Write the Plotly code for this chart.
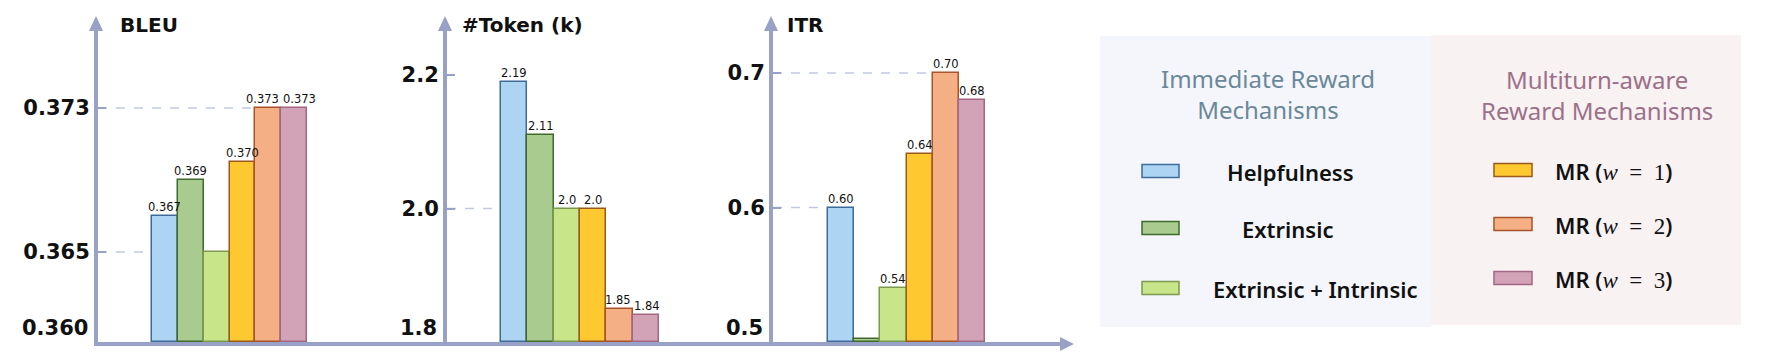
import plotly.graph_objects as go

# ---------------- data ----------------
methods = ["Helpfulness", "Extrinsic", "Extrinsic + Intrinsic",
           "MR (w = 1)", "MR (w = 2)", "MR (w = 3)"]
legend_groups = ["Immediate Reward<br>Mechanisms", "Multiturn-aware<br>Reward Mechanisms"]

bleu = [0.367, 0.369, 0.365, 0.370, 0.373, 0.373]
bleu_labels = ["0.367", "0.369", "", "0.370", "0.373", "0.373"]
bleu_ticks = [0.365, 0.373]
bleu_ticktext = ["0.365", "0.373"]
bleu_base = 0.360
bleu_base_text = "0.360"

tokens = [2.19, 2.11, 2.00, 2.00, 1.85, 1.84]
token_labels = ["2.19", "2.11", "2.0", "2.0", "1.85", "1.84"]
token_ticks = [2.0, 2.2]
token_ticktext = ["2.0", "2.2"]
token_base = 1.8
token_base_text = "1.8"

itr = [0.60, 0.502, 0.54, 0.64, 0.70, 0.68]
itr_labels = ["0.60", "", "0.54", "0.64", "0.70", "0.68"]
itr_ticks = [0.6, 0.7]
itr_ticktext = ["0.6", "0.7"]
itr_base = 0.5
itr_base_text = "0.5"

titles = ["BLEU", "#Token (k)", "ITR"]

# ---------------- styles ----------------
fill_colors = ["#aed4f3", "#a9cb8f", "#c9e58a", "#fdc830", "#f5af84", "#d2a3b7"]
edge_colors = ["#3d6b9a", "#3f6a2c", "#7b9a4e", "#9a5a1c", "#a8532a", "#a36783"]
AXIS = "#98a2c6"
DASH = "#c3cadf"
LABEL_SIZE = 11.5

W, H = 1772, 358
def px(x):
    return x / W
def py(y):
    return 1 - y / H

# layout geometry (pixels)
axis_x = [98, 447, 773]
dom_right = [447, 773, 1062]
bars_left = [152, 501, 828]
bars_right = [307, 659, 985]
y_top, y_bot = 30, 342
y_tops_val = [0.37733, 2.2674, 0.732]

series = [
    (bleu, bleu_labels, bleu_ticks, bleu_ticktext, bleu_base, bleu_base_text),
    (tokens, token_labels, token_ticks, token_ticktext, token_base, token_base_text),
    (itr, itr_labels, itr_ticks, itr_ticktext, itr_base, itr_base_text),
]

fig = go.Figure()
shapes = []
annotations = []
layout = {}

def label_width(s):
    return sum((0.318 if ch == "." else 0.636) * LABEL_SIZE for ch in s)

for k, (vals, labs, tv, tt, base, base_text) in enumerate(series):
    sfx = "" if k == 0 else str(k + 1)
    xa, ya = "x" + sfx, "y" + sfx
    n = len(vals)
    unit = (bars_right[k] - bars_left[k]) / n
    r0 = -0.5 - (bars_left[k] - axis_x[k]) / unit
    r1 = r0 + (dom_right[k] - axis_x[k]) / unit
    ppu = (y_bot - y_top) / (y_tops_val[k] - base)

    fig.add_trace(go.Bar(
        x=list(range(n)), y=[v - base for v in vals], base=base,
        marker=dict(color=fill_colors, line=dict(color=edge_colors, width=1.5)),
        width=1.0, xaxis=xa, yaxis=ya, showlegend=False,
        hovertext=methods,
    ))

    # value labels above bars, nudged apart where neighbours would collide
    shifts = [0.0] * n
    for i in range(n - 1):
        a, b = labs[i], labs[i + 1]
        if a and b and abs(vals[i] - vals[i + 1]) * ppu < 12:
            need = (label_width(a) + label_width(b)) / 2 + 4 - unit
            if need > 0:
                shifts[i] -= need / 2
                shifts[i + 1] += need / 2
    for i in range(n):
        if labs[i]:
            annotations.append(dict(text=labs[i], xref=xa, yref=ya, x=i, y=vals[i],
                                    xanchor="center", yanchor="bottom", showarrow=False,
                                    xshift=shifts[i], yshift=0,
                                    font=dict(family="DejaVu Sans", size=LABEL_SIZE, color="#111")))

    layout["xaxis" + sfx] = dict(
        domain=[px(axis_x[k]), px(dom_right[k])], range=[r0, r1],
        anchor=ya, showline=True, linecolor=AXIS, linewidth=4,
        showgrid=False, zeroline=False, showticklabels=False, ticks="",
        automargin=False,
    )
    layout["yaxis" + sfx] = dict(
        domain=[py(y_bot), py(y_top)], range=[base, y_tops_val[k]],
        anchor=xa, showline=True, linecolor=AXIS, linewidth=4,
        showgrid=False, zeroline=False, automargin=False,
        tickvals=tv, ticktext=tt, ticks="inside", ticklen=8, tickwidth=2,
        tickcolor=AXIS,
        tickfont=dict(family="DejaVu Sans", size=21, color="#111", weight="bold"),
    )

    # dashed guide lines from axis to the bar that reaches the tick value
    for t in tv:
        idx = [i for i, v in enumerate(vals) if abs(v - t) < 1e-9]
        if idx:
            shapes.append(dict(type="line", xref=xa, yref=ya, x0=r0, x1=idx[0],
                               y0=t, y1=t, layer="below",
                               line=dict(color=DASH, width=1.5, dash="dash")))

    # base tick label
    annotations.append(dict(text=base_text, xref="paper", yref=ya,
                            x=px(axis_x[k] - 8), y=base, xanchor="right", yanchor="bottom",
                            showarrow=False,
                            font=dict(family="DejaVu Sans", size=21, color="#111", weight="bold")))
    # title
    annotations.append(dict(text=titles[k], xref="paper", yref="paper",
                            x=px(axis_x[k] + (20 if k == 0 else 13 if k == 1 else 12)),
                            y=py(25), xanchor="left", yanchor="middle", showarrow=False,
                            font=dict(family="DejaVu Sans", size=20, color="#111", weight="bold")))
    # y-axis arrow head
    ax = axis_x[k] - 2
    shapes.append(dict(type="path", xref="paper", yref="paper",
                       path=f"M {px(ax-7)},{py(y_top+1)} L {px(ax)},{py(16)} L {px(ax+7)},{py(y_top+1)} Z",
                       fillcolor=AXIS, line=dict(width=0)))

# x-axis arrow head
shapes.append(dict(type="path", xref="paper", yref="paper",
                   path=f"M {px(1060)},{py(337)} L {px(1074)},{py(344)} L {px(1060)},{py(351)} Z",
                   fillcolor=AXIS, line=dict(width=0)))

# ---------------- legend panels ----------------
panels = [(1100, 36, 1431, 327, "#f4f6fb"), (1431, 35, 1741, 325, "#f9f2f3")]
for (x0, y0, x1, y1, c) in panels:
    shapes.append(dict(type="rect", xref="paper", yref="paper",
                       x0=px(x0), x1=px(x1), y0=py(y1), y1=py(y0),
                       fillcolor=c, line=dict(width=0), layer="below"))

group_title_colors = ["#6b8899", "#9b7189"]
group_title_pos = [(1268, 94), (1597, 95)]
for g in range(2):
    annotations.append(dict(text=legend_groups[g], xref="paper", yref="paper",
                            x=px(group_title_pos[g][0]), y=py(group_title_pos[g][1]),
                            xanchor="center", yanchor="middle", showarrow=False,
                            font=dict(family="Noto Sans", size=24, color=group_title_colors[g])))

def fmt_name(name):
    if name.startswith("MR (w = "):
        num = name[len("MR (w = "):-1]
        return ("MR (<span style='font-family:Liberation Serif;font-weight:normal;font-size:23px'>"
                f"<i>w</i>\u2002=\u2002{num}</span>)")
    return name

row_y = [171, 228, 288, 170, 224, 278]
sw_x = [(1142, 1179)] * 3 + [(1494, 1532)] * 3
for i, name in enumerate(methods):
    yc = row_y[i]
    shapes.append(dict(type="rect", xref="paper", yref="paper",
                       x0=px(sw_x[i][0]), x1=px(sw_x[i][1]),
                       y0=py(yc + 6.5), y1=py(yc - 6.5),
                       fillcolor=fill_colors[i], line=dict(color=edge_colors[i], width=1.5)))
    if i < 3:
        tx = [1290, 1287, 1315][i]
        anchor = "center"
    else:
        tx = 1553
        anchor = "left"
    annotations.append(dict(text=fmt_name(name), xref="paper", yref="paper",
                            x=px(tx), y=py(yc + 1), xanchor=anchor, yanchor="middle",
                            showarrow=False,
                            font=dict(family="Noto Sans", size=22, color="#111", weight=600)))

fig.update_layout(
    width=W, height=H, margin=dict(l=0, r=0, t=0, b=0),
    paper_bgcolor="white", plot_bgcolor="white",
    bargap=0, shapes=shapes, annotations=annotations, **layout,
)

fig.write_html("out.html", config={"displayModeBar": False},
               post_script="document.body.style.margin='0';document.body.style.overflow='hidden';")
